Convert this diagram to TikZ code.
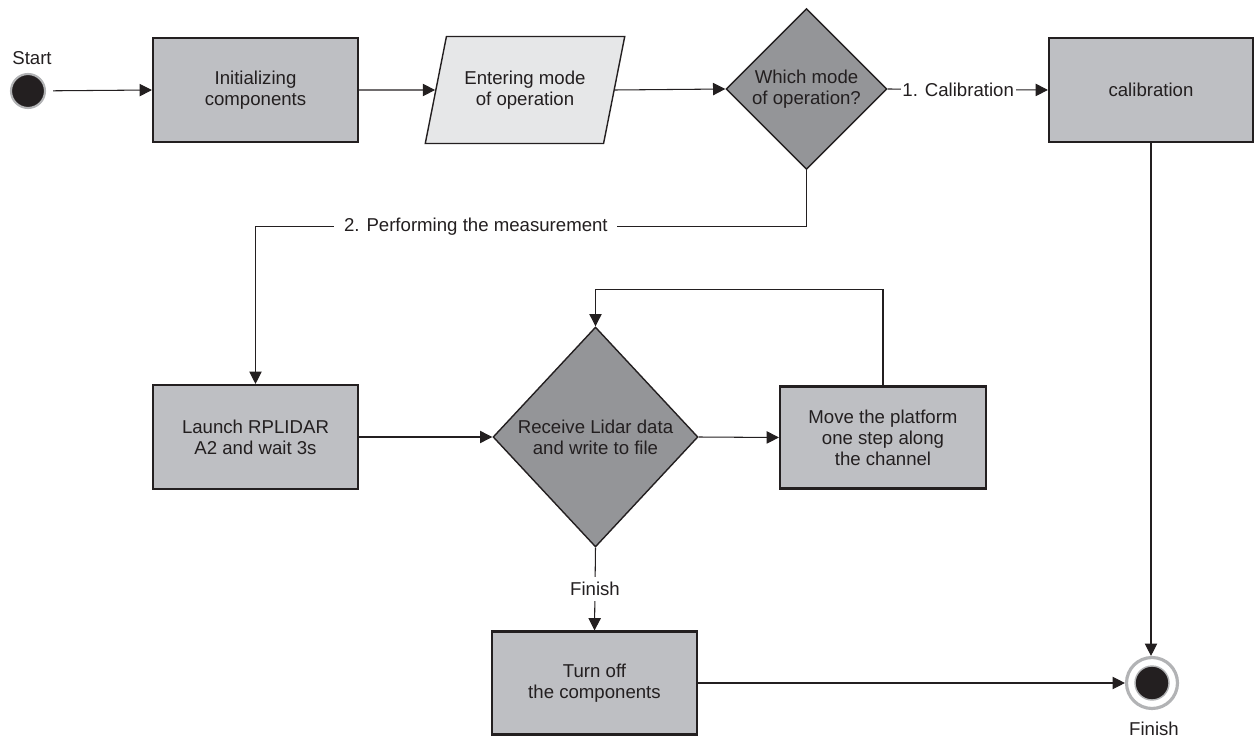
\documentclass[tikz,border=0pt]{standalone}
\usepackage{fontspec}
\setmainfont{Liberation Sans}
\usetikzlibrary{shapes.geometric,arrows.meta}
\definecolor{boxfill}{RGB}{190,191,195}
\definecolor{parfill}{RGB}{230,231,232}
\definecolor{diafill}{RGB}{148,149,152}
\definecolor{ink}{RGB}{35,31,32}
\definecolor{ringgray}{RGB}{178,179,181}
\begin{document}
\begin{tikzpicture}[x=0.02cm,y=-0.02cm,
  font=\fontsize{10.6}{12}\selectfont, text=ink,
  box/.style={draw=ink, line width=1.2pt, fill=boxfill, align=center,
    minimum width=4.1cm, minimum height=2.08cm, inner sep=0pt},
  para/.style={trapezium, trapezium left angle=67, trapezium right angle=113,
    trapezium stretches=true, draw=ink, line width=0.8pt, fill=parfill, align=center,
    minimum width=4cm, minimum height=2.14cm, inner sep=0pt},
  dia/.style={diamond, draw=ink, line width=0.8pt, fill=diafill, align=center, inner sep=0pt},
  conn/.style={draw=ink, line width=0.6pt},
  arr/.style={conn, -{Triangle[length=7pt,width=7pt]}},
  lbl/.style={fill=white, inner sep=2pt},
  txt/.style={inner sep=0pt}]
\useasboundingbox (0,0) rectangle (1255,740);

% nodes
\node[txt] (startlbl) at (32,58) {Start};
\node[circle, fill=ink, draw=ringgray, line width=1.2pt, minimum size=0.68cm, inner sep=0pt] (start) at (28,91) {};
\node[box] (init) at (255.5,90) {Initializing\\components};
\node[para] (par) at (525,90) {Entering mode\\of operation};
\node[dia, minimum width=3.22cm, minimum height=3.22cm] (d1) at (806.5,89) {Which mode\\of operation?};
\node[box, minimum width=4.08cm] (cal) at (1151,90) {calibration};

\node[box] (launch) at (255.5,437) {Launch RPLIDAR\\A2 and wait 3s};
\node[dia, minimum width=4.1cm, minimum height=4.4cm] (d2) at (595.5,437) {Receive Lidar data\\and write to file};
\node[box, minimum width=4.12cm, minimum height=2.04cm] (move) at (883,437.5) {Move the platform\\one step along\\the channel};

\node[box, minimum height=2.06cm] (off) at (594.5,683) {Turn off\\the components};
\node[circle, draw=ringgray, line width=1.8pt, fill=white, minimum size=1.02cm, inner sep=0pt] (fin) at (1152,683) {};
\node[circle, fill=ink, draw=ringgray, line width=0.8pt, minimum size=0.68cm, inner sep=0pt] (fininner) at (fin.center) {};
\node[txt] (finlbl) at (1154,729) {Finish};

% connectors
\draw[arr, shorten <=4pt] (start) -- (init.west);
\draw[arr] (init.east) -- (par.west);
\draw[arr] (par.east) -- (d1.west);
\draw[arr] (d1.east) -- node[lbl, pos=0.44, inner sep=1pt] {1. Calibration} (cal.west);
\draw[arr] (cal.south) -- (cal.south |- fin.north);
\draw[arr] (d1.south) -- ++(0,56) -| node[lbl, pos=0.30, inner sep=5.5pt] {2. Performing the measurement} (launch.north);
\draw[arr] (launch.east) -- (d2.west);
\draw[arr] (d2.east) -- (move.west);
\draw[arr] (move.north) -- ++(0,-96) -| (d2.north);
\draw[arr] (d2.south) -- node[lbl, inner sep=3pt] {Finish} (off.north);
\draw[arr] (off.east) -- (fin.west);
\end{tikzpicture}
\end{document}
